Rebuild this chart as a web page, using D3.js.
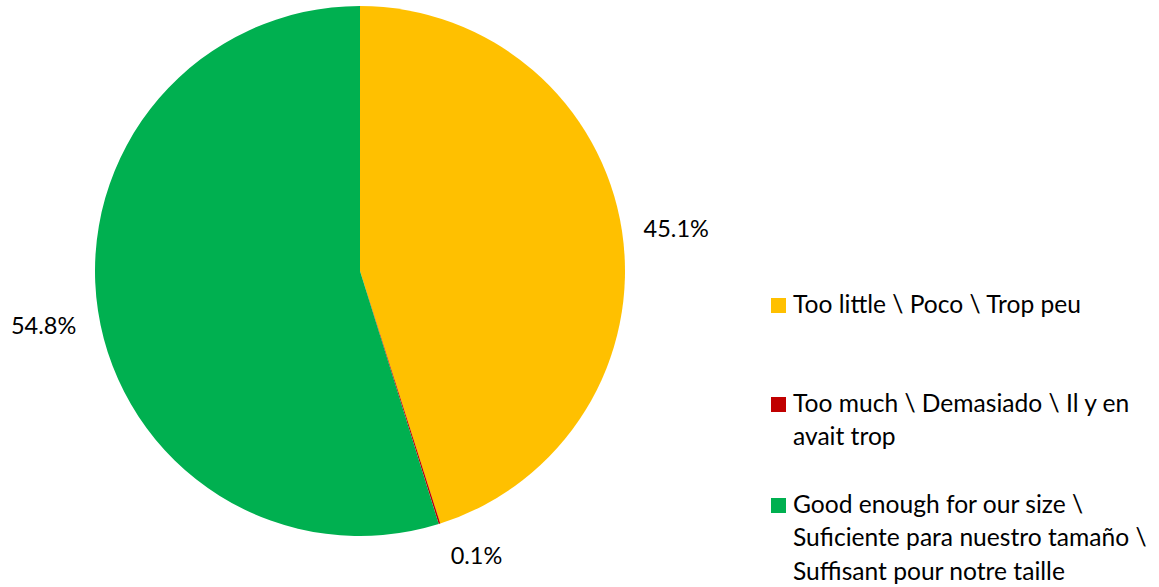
<!DOCTYPE html>
<html>
<head>
<meta charset="utf-8">
<script src="https://cdn.jsdelivr.net/npm/d3@7"></script>
<style>
  html, body { margin: 0; padding: 0; background: #ffffff; }
  svg { display: block; }
  text { font-family: Lato, "Open Sans", sans-serif; fill: #000000; }
</style>
</head>
<body>
<svg id="chart" width="1159" height="587"></svg>
<script>
// "\n" marks where the reference legend wraps its text
const categories = [
  "Too little \\ Poco \\ Trop peu",
  "Too much \\ Demasiado \\ Il y en\navait trop",
  "Good enough for our size \\\nSuficiente para nuestro tamaño \\\nSuffisant pour notre taille"
];
const values = [45.1, 0.1, 54.8];
const colors = ["#FFC000", "#C00000", "#00B050"];

const svg = d3.select("#chart");
const cx = 360, cy = 271, R = 265;

const pie = d3.pie().sort(null).value(d => d)(values);
const arc = d3.arc().innerRadius(0).outerRadius(R);
const labelArc = d3.arc().innerRadius(320).outerRadius(320);
const edgeArc = d3.arc().innerRadius(R).outerRadius(R);

const g = svg.append("g").attr("transform", `translate(${cx},${cy})`);
g.selectAll("path.slice")
  .data(pie)
  .join("path")
  .attr("class", "slice")
  .attr("d", arc)
  .attr("fill", (d, i) => colors[i]);

const fmt = v => v.toFixed(1) + "%";
g.selectAll("text.lbl")
  .data(pie)
  .join("text")
  .attr("class", "lbl")
  .attr("text-anchor", "middle")
  .attr("dominant-baseline", "central")
  .style("font-size", "23.5px")
  .attr("transform", (d, i) => {
    if (d.endAngle - d.startAngle < 0.05) {
      const p = edgeArc.centroid(d);
      return `translate(${p[0] + 37},${p[1] + 31})`;
    }
    const p = labelArc.centroid(d);
    return `translate(${p[0]},${p[1] + 6})`;
  })
  .text(d => fmt(d.data));

// Legend
const legendX = 771, textX = 793;
const itemTops = [298, 397, 498];
const lineH = 33.5;

const legend = svg.append("g");
categories.forEach((cat, i) => {
  legend.append("rect")
    .attr("x", legendX).attr("y", itemTops[i])
    .attr("width", 15).attr("height", 15)
    .attr("fill", colors[i]);
  const t = legend.append("text")
    .attr("x", textX)
    .attr("y", itemTops[i] + 14.5)
    .style("font-size", "24.6px");
  cat.split("\n").forEach((ln, j) => {
    t.append("tspan").attr("x", textX).attr("dy", j === 0 ? 0 : lineH).text(ln);
  });
});
</script>
</body>
</html>
